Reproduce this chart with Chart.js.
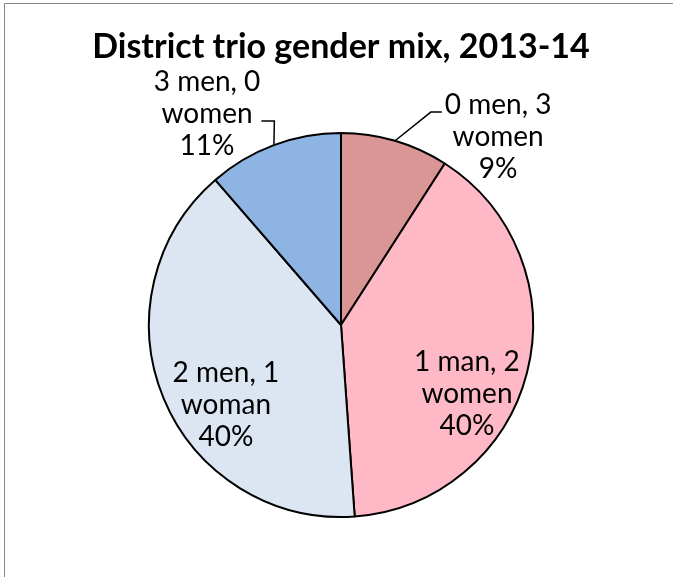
<!DOCTYPE html>
<html lang="en">
<head>
  <meta charset="UTF-8" />
  <title>District trio gender mix, 2013-14</title>
  <script src="https://cdn.jsdelivr.net/npm/chart.js"></script>
  <style>
    body {
      margin: 0;
      background: #fff;
      overflow: hidden;
    }

    canvas {
      display: block;
    }
  </style>
</head>
<body>
  <canvas id="chart" width="673" height="577"></canvas>

  <script>
    // === Data ===
    const chartTitle = "District trio gender mix, 2013-14";
    const categories = ["0 men, 3 women", "1 man, 2 women", "2 men, 1 woman", "3 men, 0 women"];
    const categoryLines = [["0 men, 3", "women"], ["1 man, 2", "women"], ["2 men, 1", "woman"], ["3 men, 0", "women"]];
    const trioCounts = [8, 35, 35, 10];
    const sliceColors = ["#D99694", "#FFB9C6", "#DCE6F2", "#8EB4E3"];

    // label placement: angle from 12 o'clock (deg), distance as share of radius
    const labelPlace = [
      { angle: 39.9, dist: 1.276, leader: { side: "left", dy: -25 } },
      { angle: 118.7, dist: 0.748 },
      { angle: 235.2, dist: 0.73 },
      { angle: 327.6, dist: 1.302, leader: { side: "right", dy: 7 } }
    ];

    const total = trioCounts.reduce((a, b) => a + b, 0);

    // === Outer frame (chart border, cropped at right/bottom) ===
    const framePlugin = {
      id: "framePlugin",
      beforeDraw(chart) {
        const ctx = chart.ctx;
        ctx.save();
        ctx.strokeStyle = "#888";
        ctx.lineWidth = 1;
        ctx.beginPath();
        ctx.moveTo(4.5, chart.height);
        ctx.lineTo(4.5, 3.5);
        ctx.lineTo(chart.width, 3.5);
        ctx.stroke();
        ctx.restore();
      }
    };

    // === Title + slice labels ===
    const textPlugin = {
      id: "textPlugin",
      afterDatasetsDraw(chart) {
        const ctx = chart.ctx;
        const arcs = chart.getDatasetMeta(0).data;
        ctx.save();

        ctx.fillStyle = "#000";
        ctx.textAlign = "center";
        ctx.textBaseline = "alphabetic";
        ctx.font = "bold 34px Lato";
        ctx.fillText(chartTitle, 341, 58);

        ctx.font = "28px Lato";
        ctx.textBaseline = "middle";
        const lineGap = 32;

        arcs.forEach((arc, i) => {
          const { x, y, outerRadius, startAngle, endAngle } =
            arc.getProps(["x", "y", "outerRadius", "startAngle", "endAngle"], true);
          const p = labelPlace[i];
          const a = (p.angle - 90) * Math.PI / 180;
          const cx = x + Math.cos(a) * outerRadius * p.dist;
          const cy = y + Math.sin(a) * outerRadius * p.dist;
          const pct = Math.round(trioCounts[i] / total * 100) + "%";
          const lines = [...categoryLines[i], pct];

          lines.forEach((t, k) => {
            ctx.fillText(t, cx, cy + (k - (lines.length - 1) / 2) * lineGap);
          });

          if (p.leader) {
            const w = Math.max(...lines.map(t => ctx.measureText(t).width));
            const mid = (startAngle + endAngle) / 2;
            const ex = x + Math.cos(mid) * outerRadius;
            const ey = y + Math.sin(mid) * outerRadius;
            const ly = cy + p.leader.dy;
            let endX, elbowX;
            if (p.leader.side === "left") {
              endX = cx - w / 2 - 3;
              elbowX = endX - 11;
            } else {
              endX = cx + w / 2 + 1;
              elbowX = endX + 13;
            }
            ctx.strokeStyle = "#000";
            ctx.lineWidth = 1.5;
            ctx.beginPath();
            ctx.moveTo(ex, ey);
            ctx.lineTo(elbowX, ly);
            ctx.lineTo(endX, ly);
            ctx.stroke();
          }
        });

        ctx.restore();
      }
    };

    // === Chart ===
    const ctx = document.getElementById("chart").getContext("2d");
    const chart = new Chart(ctx, {
      type: "pie",
      data: {
        labels: categories,
        datasets: [{
          data: trioCounts,
          backgroundColor: sliceColors,
          borderColor: "#000",
          borderWidth: 2,
          hoverOffset: 0
        }]
      },
      options: {
        responsive: false,
        animation: false,
        radius: 192,
        layout: {
          padding: { left: 149, right: 140, top: 133, bottom: 60 }
        },
        plugins: {
          legend: { display: false },
          tooltip: { enabled: false }
        }
      },
      plugins: [framePlugin, textPlugin]
    });
  </script>
</body>
</html>
